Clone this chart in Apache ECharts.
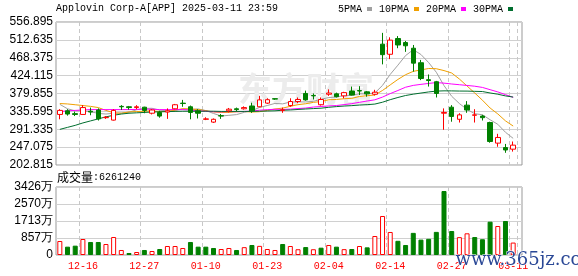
<!DOCTYPE html>
<html><head><meta charset="utf-8">
<script src="https://cdn.jsdelivr.net/npm/echarts@6/dist/echarts.min.js"></script>
<style>html,body{margin:0;padding:0;background:#fff}#c{width:578px;height:276px}</style>
</head><body><div id="c"></div>
<script>
const dates = ['12-11','12-12','12-13','12-16','12-17','12-18','12-19','12-20','12-23','12-24','12-26','12-27',
'12-30','12-31','01-02','01-03','01-06','01-07','01-08','01-10','01-13','01-14','01-15','01-16','01-17','01-21',
'01-22','01-23','01-24','01-27','01-28','01-29','01-30','01-31','02-03','02-04','02-05','02-06','02-07','02-10',
'02-11','02-12','02-13','02-14','02-18','02-19','02-20','02-21','02-24','02-25','02-26','02-27','02-28','03-03',
'03-04','03-05','03-06','03-07','03-10','03-11'];
const opens = [328,337,330,328,336,339,320,314,348,347,345,346,331,333,334,342,356,347,337,316,309,325,337,342,342,349,347,356,367,338,
350,360,380,375,352,378,379,374,386,387,384,378,502,477,516,506,492,456,414,409,331,346,316,351,326,324,308,257,246,242];
const closes = [338,329,328,345,334,317,321,338,347,345,347,338,339,324,337,352,355,333,331,317,316,324,341,340,345,337,364,364.5,366,339.5,
360,365,364,374,365,381,372,382,376,386,379,383,476,512,500,498,455,417,412,380,333,323,327,339,327,320,261,271,240,252];
const highs = [341,341,335,351,345,343,324,341,351,349,351,347,341,337,343,354,364,350,341,321,318,329,344,345,348,357,374,368,368,345,
368,370,387,380,370,390,382,384,397,398,386,389,530,519,522,510,500,463,427,411,343,351,331,361,341,327,310,280,255,261];
const lows = [316,325,324,327,326,313,317,313,339,340,341,331,328,320,317,341,347,316,318,314,307,317,333,335,340,332,346,354,364,332,
347,356,362,365,350,374,370,368,375,376,372,375,452,465,492,483,434,413,397,370,290,310,308,332,308,313,258,248,233,236];
const volumes = [705,420,470,806,655,655,554,907,252,101,151,252,201,302,453,453,353,655,420,420,353,302,353,252,395,504,460,302,252,554,
453,290,400,290,369,504,420,295,302,453,386,957,1965,1159,715,504,1115,775,815,1165,3224,1209,900,1092,905,795,1679,1461,1713,626.124];
const volUp = [1,0,0,1,0,0,1,1,1,0,1,0,1,0,1,1,1,0,0,0,0,1,1,0,1,0,1,1,1,0,1,1,0,1,0,1,0,1,0,1,0,1,1,1,0,0,0,0,0,0,0,0,1,1,0,0,0,1,0,1];
const ma5 = [353,342,337,337,334.8,330.6,329,331,331.4,333.6,339.6,343,343.2,338.6,337,338,341.4,340.2,341.6,337.6,330.4,324.2,325.8,327.6,
333.2,337.4,345.4,350.1,355.3,354.2,358.8,359,358.9,360.5,365.6,369.8,371.2,374.8,375.2,379.4,379,381.2,400,427.2,450,473.8,488.2,476.4,
456.4,432.4,399.4,373,355,340.4,329.8,327.2,314.8,303.6,283.8,268.8];
const ma10 = [355,354,352,350,348,345,338,332,331,334.2,335.1,336,337.1,335,335.3,338.8,342.2,341.7,340.1,337.3,334.2,332.8,333,334.6,335.4,
333.9,334.8,338,341.5,343.7,348.1,352.2,354.5,357.9,359.9,364.3,365.1,366.9,367.9,372.5,374.4,376.2,387.4,401.2,414.7,426.4,434.7,438.2,
441.8,441.2,436.6,430.6,415.7,398.4,381.1,363.3,343.9,329.3,312.1,299.3];
const ma20 = [335,337,338,339,340,340,340,340,340,340,340.5,341,341,340,340,340,340,339,337,335.8,334.7,334.4,335.1,334.8,335.4,336.4,338.5,
339.8,340.8,340.5,341.2,342.5,343.8,346.3,347.7,349.1,350,352.4,354.7,358.1,361.3,364.2,371,379.6,387.3,395.4,399.9,402.5,404.8,406.9,
405.5,403.4,401.6,399.8,397.9,394.9,389.3,383.8,377,370.3];
const ma30 = [291,296,301,307,312,317,322,326,329,331,332,333,334,334.5,335,335.5,336,336,336,336,336,335.5,335.5,335.5,335.5,335.5,336,
336.5,337,338.4,339.1,340.3,341.5,342.5,343.5,345.7,347.4,348.8,349.8,351.2,352.2,353.7,358.3,364.6,370,374.9,378.2,381,383.7,385.8,
386.4,386.3,385.9,385.8,385.2,384.7,381.2,378.1,373.9,371];
const priceTicks = [202.815,247.075,291.335,335.595,379.855,424.115,468.375,512.635,556.895];
const volTicks = [0,856.5,1713,2569.5,3426];
const volTickLabels = ['0','857万','1713万','2570万','3426万'];
const labelIdx = [3,11,19,27,35,43,51,59];
const maNames = ['5PMA','10PMA','20PMA','30PMA'];

const RED = '#ff0000', GREEN = '#008000';
const MONO = 'Liberation Mono';
const chart = echarts.init(document.getElementById('c'), null, {renderer:'canvas'});
const showIdx = (i) => labelIdx.indexOf(i) >= 0;
const splitDash = {show:true, interval:(i)=>showIdx(i), lineStyle:{color:'#c8c8c8', type:[4,3], width:1}};

const kData = opens.map((o,i)=>[o, closes[i], lows[i], highs[i]]);
const vData = volumes.map((v,i)=>({value:v, itemStyle: volUp[i] ? {color:'#fff', borderColor:RED, borderWidth:1} : {color:GREEN, borderColor:GREEN, borderWidth:1}}));
const maColors = ['#a0a0a0','#f0a000','#ff00ff','#006e2e'];
const maData = [ma5, ma10, ma20, ma30];

const option = {
  animation:false,
  backgroundColor:'#fff',
  title:[
    {text:'Applovin Corp-A[APP] 2025-03-11 23:59', left:56, top:3, padding:0,
     textStyle:{fontFamily:MONO, fontSize:10, fontWeight:'normal', color:'#000'}},
    {text:'{a|成交量}{b|:6261240}', left:57, top:171, padding:0,
     textStyle:{fontWeight:'normal', rich:{a:{fontFamily:'Noto Sans CJK SC', fontSize:12, fontWeight:'normal', color:'#000'}, b:{fontFamily:MONO, fontSize:10, fontWeight:'normal', color:'#000'}}}}
  ],
  legend:{data:maNames, left:338, top:4, padding:0, align:'right', itemWidth:5, itemHeight:4, itemGap:7, icon:'rect',
    textStyle:{fontFamily:MONO, fontSize:10, color:'#000', padding:0}},
  graphic:[
    {type:'text', left:238, top:72, z:1, silent:true,
     style:{text:'东方财富', fontFamily:'Noto Sans CJK SC', fontWeight:'bold', fontSize:34, fill:'#ececec'}},
    {type:'text', left:455, top:251, z:100, silent:true,
     style:{text:'www.365jz.com', fontFamily:'DejaVu Serif', fontSize:18, fill:'#2a4896', stroke:'#fff', lineWidth:1}}
  ],
  grid:[
    {left:56, top:22, width:461, height:143},
    {left:56, top:187, width:461, height:68},
    {left:56, top:22, width:466, height:143, show:true, borderColor:'#999', borderWidth:1, backgroundColor:'transparent'},
    {left:56, top:187, width:466, height:68, show:true, borderColor:'#999', borderWidth:1, backgroundColor:'transparent'}
  ],
  xAxis:[
    {type:'category', gridIndex:0, data:dates, boundaryGap:true, axisLine:{show:false}, axisTick:{show:false}, axisLabel:{show:false}, splitLine:splitDash},
    {type:'category', gridIndex:1, data:dates, boundaryGap:true, axisLine:{show:false}, axisTick:{show:false},
     axisLabel:{show:true, interval:(i)=>showIdx(i), color:RED, fontFamily:MONO, fontSize:10, margin:6}, splitLine:splitDash},
    {type:'value', gridIndex:2, show:false, min:0, max:1},
    {type:'value', gridIndex:3, show:false, min:0, max:1}
  ],
  yAxis:[
    {type:'value', gridIndex:0, min:priceTicks[0], max:priceTicks[8], show:false, splitLine:{show:false}},
    {type:'value', gridIndex:1, min:0, max:volTicks[4], show:false, splitLine:{show:false}},
    {type:'value', gridIndex:2, min:priceTicks[0], max:priceTicks[8], axisLine:{show:false},
     axisTick:{show:false, customValues:priceTicks},
     axisLabel:{customValues:priceTicks, formatter:(v)=>v.toFixed(3), color:'#000', fontFamily:'Liberation Sans', fontSize:12, margin:3},
     splitLine:{show:true, lineStyle:{color:'#d0d0d0', width:1}}},
    {type:'value', gridIndex:3, min:0, max:volTicks[4], axisLine:{show:false},
     axisTick:{show:false, customValues:volTicks},
     axisLabel:{customValues:volTicks, formatter:(v)=>{const k=volTicks.findIndex(t=>Math.abs(t-v)<0.01); return k>=0?volTickLabels[k]:'';},
       color:'#000', fontFamily:'Liberation Sans', fontSize:12, margin:3},
     splitLine:{show:true, lineStyle:{color:'#d0d0d0', width:1}}}
  ],
  series:[
    {type:'candlestick', name:'K', xAxisIndex:0, yAxisIndex:0, data:kData, barWidth:5, z:5,
     itemStyle:{color:'#fff', color0:GREEN, borderColor:RED, borderColor0:GREEN, borderWidth:1}},
    ...maNames.map((n,k)=>({type:'line', name:n, xAxisIndex:0, yAxisIndex:0, data:maData[k], symbol:'none', smooth:false,
      lineStyle:{color:maColors[k], width:1}, itemStyle:{color:maColors[k]}, z:3})),
    {type:'bar', name:'VOL', xAxisIndex:1, yAxisIndex:1, data:vData, barWidth:5}
  ]
};
chart.setOption(option);
</script></body></html>
